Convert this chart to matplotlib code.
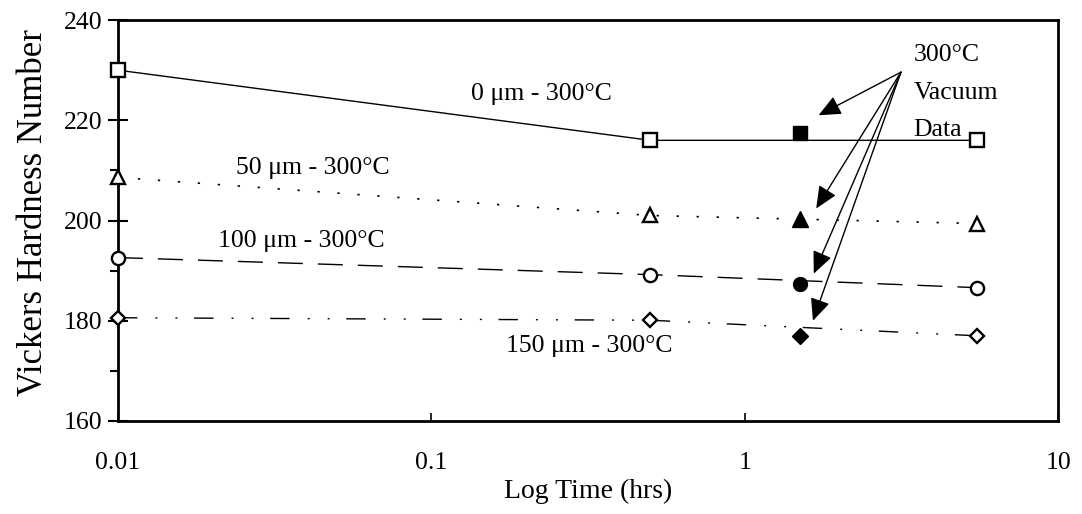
import matplotlib
matplotlib.use("Agg")
import matplotlib.pyplot as plt
from matplotlib.ticker import FixedLocator, NullLocator, FixedFormatter

plt.rcParams['font.family'] = ['Liberation Serif', 'DejaVu Serif']

# ---- data ----
time_open = [0.01, 0.5, 5.5]
hv_0um = [230.0, 216.0, 216.0]
hv_50um = [208.6, 201.0, 199.4]
hv_100um = [192.6, 189.2, 186.6]
hv_150um = [180.6, 180.1, 177.0]

time_vacuum = [1.5]
vac_0um = [217.5]
vac_50um = [200.4]
vac_100um = [187.4]
vac_150um = [177.0]

series_labels = ["0 \u03bcm - 300\u00b0C", "50 \u03bcm - 300\u00b0C",
                 "100 \u03bcm - 300\u00b0C", "150 \u03bcm - 300\u00b0C"]
x_ticks = [0.01, 0.1, 1, 10]
x_ticklabels = ["0.01", "0.1", "1", "10"]
y_ticks = [160, 180, 200, 220, 240]
y_minor = [170, 190, 210, 230]

# arrow annotation: origin and targets (data coords)
arrow_from = (3.15, 229.6)
arrow_to = [(1.72, 221.0), (1.69, 202.4), (1.66, 189.4), (1.65, 180.0)]

fig = plt.figure(figsize=(10.82, 5.14), dpi=100)
ax = fig.add_axes([0.109, 0.181, 0.869, 0.780])

ax.set_xscale('log')
ax.set_xlim(0.01, 10)
ax.set_ylim(160, 240)

lw = 1.0
ax.plot(time_open, hv_0um, color='black', lw=lw, ls='-', marker='s', ms=10.5,
        mfc='white', mec='black', mew=1.7, clip_on=False, zorder=3)
ax.plot(time_open, hv_50um, color='black', lw=1.2, ls=(0, (1.4, 10.6)), marker='^', ms=10,
        mfc='white', mec='black', mew=1.7, clip_on=False, zorder=3)
ax.plot(time_open, hv_100um, color='black', lw=lw, ls=(0, (18, 10.8)), marker='o', ms=9.5,
        mfc='white', mec='black', mew=1.7, clip_on=False, zorder=3)
ax.plot(time_open, hv_150um, color='black', lw=lw,
        ls=(0, (14, 13, 1.4, 13, 1.4, 12)), marker='D', ms=7.5,
        mfc='white', mec='black', mew=1.7, clip_on=False, zorder=3)

ax.plot(time_vacuum, vac_0um, ls='none', marker='s', ms=10, color='black', zorder=4)
ax.plot(time_vacuum, vac_50um, ls='none', marker='^', ms=11, color='black', zorder=4)
ax.plot(time_vacuum, vac_100um, ls='none', marker='o', ms=10, color='black', zorder=4)
ax.plot(time_vacuum, vac_150um, ls='none', marker='D', ms=8, color='black', zorder=4)

for tgt in arrow_to:
    ax.annotate('', xy=tgt, xytext=arrow_from,
                arrowprops=dict(arrowstyle='-|>,head_length=0.85,head_width=0.38',
                                mutation_scale=16, color='black', lw=1.0,
                                shrinkA=0, shrinkB=0), zorder=5)

fs = 18.5
ax.text(0.45, 0.815, series_labels[0], transform=ax.transAxes, ha='center', va='center', fontsize=fs)
ax.text(0.207, 0.63, series_labels[1], transform=ax.transAxes, ha='center', va='center', fontsize=fs)
ax.text(0.195, 0.45, series_labels[2], transform=ax.transAxes, ha='center', va='center', fontsize=fs)
ax.text(0.501, 0.1875, series_labels[3], transform=ax.transAxes, ha='center', va='center', fontsize=fs)

ax.text(0.846, 0.9125, "300\u00b0C", transform=ax.transAxes, ha='left', va='center', fontsize=fs)
ax.text(0.846, 0.8175, "Vacuum", transform=ax.transAxes, ha='left', va='center', fontsize=fs)
ax.text(0.846, 0.725, "Data", transform=ax.transAxes, ha='left', va='center', fontsize=fs)

# ticks
ax.xaxis.set_major_locator(FixedLocator(x_ticks))
ax.xaxis.set_major_formatter(FixedFormatter(x_ticklabels))
ax.xaxis.set_minor_locator(NullLocator())
ax.yaxis.set_major_locator(FixedLocator(y_ticks))
ax.yaxis.set_minor_locator(FixedLocator(y_minor))
ax.tick_params(axis='x', which='major', direction='in', length=6, width=1.2,
               labelsize=18.5, pad=22)
ax.tick_params(axis='y', which='major', direction='inout', length=14, width=1.5,
               labelsize=18.5, pad=4)
ax.tick_params(axis='y', which='minor', direction='out', length=6, width=1.5)

for sp in ax.spines.values():
    sp.set_linewidth(2.0)

ax.set_xlabel("Log Time (hrs)", fontsize=20)
ax.xaxis.set_label_coords(0.5, -0.145)
ax.set_ylabel("Vickers Hardness Number", fontsize=25)
ax.yaxis.set_label_coords(-0.072, 0.52)

fig.savefig("out.png", dpi=100)
